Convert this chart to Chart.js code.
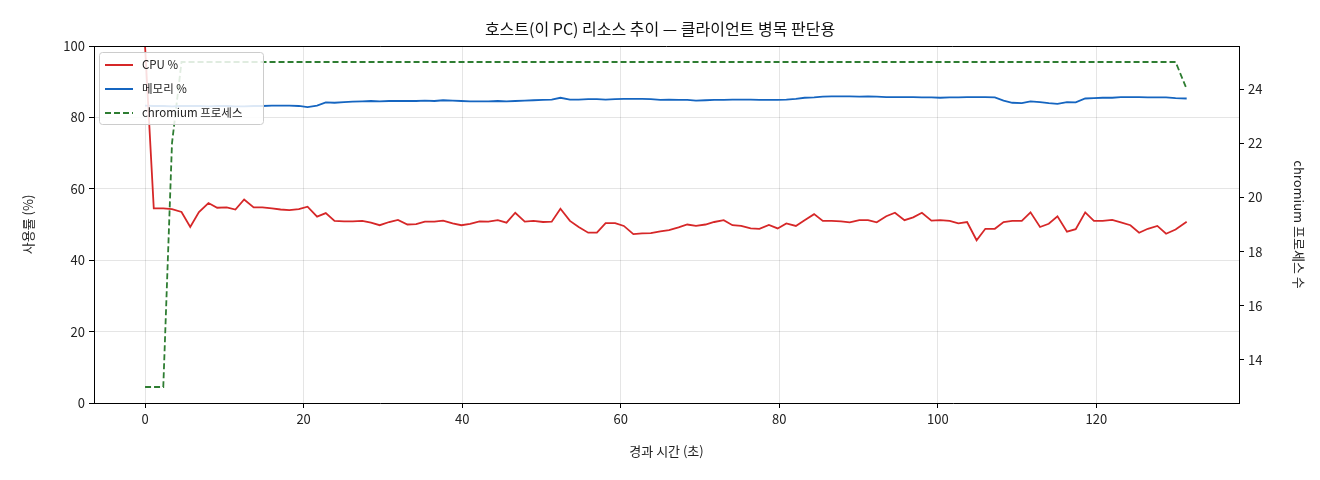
<!DOCTYPE html>
<html><head><meta charset="utf-8">
<script src="https://cdn.jsdelivr.net/npm/chart.js@4"></script>
<style>html,body{margin:0;padding:0;background:#fff}#w{width:1320px;height:480px}</style>
</head><body><div id="w"><canvas id="c"></canvas></div>
<script>
const times=[0,1.1,2.3,3.4,4.6,5.7,6.8,8.0,9.1,10.3,11.4,12.5,13.7,14.8,16.0,17.1,18.2,19.4,20.5,21.7,22.8,23.9,25.1,26.2,27.4,28.5,29.6,30.8,31.9,33.1,34.2,35.3,36.5,37.6,38.8,39.9,41.0,42.2,43.3,44.5,45.6,46.7,47.9,49.0,50.2,51.3,52.4,53.6,54.7,55.9,57.0,58.1,59.3,60.4,61.6,62.7,63.8,65.0,66.1,67.3,68.4,69.5,70.7,71.8,73.0,74.1,75.2,76.4,77.5,78.7,79.8,80.9,82.1,83.2,84.4,85.5,86.6,87.8,88.9,90.1,91.2,92.3,93.5,94.6,95.8,96.9,98.0,99.2,100.3,101.5,102.6,103.7,104.9,106.0,107.2,108.3,109.4,110.6,111.7,112.9,114.0,115.1,116.3,117.4,118.6,119.7,120.8,122.0,123.1,124.3,125.4,126.5,127.7,128.8,130.0,131.4];
const cpu=[100,54.5,54.5,54.3,53.5,49.3,53.5,56,54.7,54.8,54.2,57,54.8,54.8,54.5,54.2,54,54.3,55,52.2,53.2,51,50.9,50.9,51,50.5,49.8,50.7,51.3,50,50.1,50.8,50.8,51.1,50.3,49.8,50.2,50.9,50.8,51.2,50.5,53.3,50.8,51,50.7,50.8,54.4,51,49.3,47.7,47.7,50.4,50.4,49.6,47.3,47.5,47.6,48.1,48.4,49.2,50,49.6,50,50.7,51.2,49.8,49.6,48.9,48.8,49.9,48.9,50.3,49.6,51.2,52.9,51,51,50.9,50.6,51.2,51.2,50.6,52.3,53.3,51.2,52,53.3,51.1,51.2,51,50.3,50.7,45.6,48.8,48.8,50.7,51,51,53.4,49.3,50.2,52.3,48,48.7,53.4,51,51,51.3,50.6,49.8,47.7,48.8,49.6,47.4,48.6,50.8];
const mem=[83.3,83.2,83.2,83.1,83.2,83.2,83.2,83.1,83.2,83.2,83.1,83.1,83.2,83.2,83.3,83.3,83.3,83.2,82.9,83.3,84.2,84.1,84.3,84.4,84.5,84.6,84.5,84.6,84.6,84.6,84.6,84.7,84.6,84.8,84.7,84.6,84.5,84.5,84.5,84.6,84.5,84.6,84.7,84.8,84.9,85.0,85.5,85.0,85.0,85.1,85.1,85.0,85.1,85.2,85.2,85.2,85.1,84.9,85.0,84.9,84.9,84.7,84.8,84.9,84.9,85.0,85.0,85.0,84.9,84.9,84.9,85.0,85.2,85.5,85.6,85.8,85.9,85.9,85.9,85.8,85.9,85.8,85.7,85.7,85.7,85.7,85.6,85.6,85.5,85.6,85.6,85.7,85.7,85.7,85.6,84.7,84.1,84.0,84.5,84.3,84.0,83.8,84.3,84.2,85.3,85.4,85.5,85.5,85.7,85.7,85.7,85.6,85.6,85.6,85.4,85.3];
const chrom=[13,13,13,22,25,25,25,25,25,25,25,25,25,25,25,25,25,25,25,25,25,25,25,25,25,25,25,25,25,25,25,25,25,25,25,25,25,25,25,25,25,25,25,25,25,25,25,25,25,25,25,25,25,25,25,25,25,25,25,25,25,25,25,25,25,25,25,25,25,25,25,25,25,25,25,25,25,25,25,25,25,25,25,25,25,25,25,25,25,25,25,25,25,25,25,25,25,25,25,25,25,25,25,25,25,25,25,25,25,25,25,25,25,25,25,24];
const xTicks=[0,20,40,60,80,100,120];
const yTicks=[0,20,40,60,80,100];
const y2Ticks=[14,16,18,20,22,24];
const labels=['CPU %','메모리 %','chromium 프로세스'];
const colors=['#d62728','#1565c0','#2e7d32'];
const FONT='"Noto Sans CJK KR","Noto Sans",sans-serif';
const pts=a=>a.map((v,i)=>({x:times[i],y:v}));
const legendPlugin={id:'lg',afterDraw(ch){const c=ch.ctx;c.save();
 c.fillStyle='#111';c.textAlign='center';c.textBaseline='middle';
 c.font='16px '+FONT;c.fillText('호스트(이 PC) 리소스 추이 — 클라이언트 병목 판단용',660,29);
 const x=99,y=52,w=164,h=72;c.fillStyle='rgba(255,255,255,0.85)';c.strokeStyle='#ccc';c.lineWidth=1;
 c.beginPath();c.roundRect(x+.5,y+.5,w,h,3);c.fill();c.stroke();
 c.font='11.5px '+FONT;c.textAlign='left';
 labels.forEach((l,i)=>{const yy=y+13+i*24;c.strokeStyle=colors[i];c.lineWidth=2;c.setLineDash(i==2?[6,3]:[]);
  c.beginPath();c.moveTo(x+6,yy);c.lineTo(x+34,yy);c.stroke();c.setLineDash([]);c.fillStyle='#222';c.fillText(l,x+43,yy);});
 c.restore();}};
const grid={color:'rgba(0,0,0,0.1)',tickColor:'#000',tickLength:5};
new Chart(document.getElementById('c'),{type:'line',
 data:{datasets:[
  {label:labels[0],data:pts(cpu),borderColor:colors[0],borderWidth:1.8,pointRadius:0,yAxisID:'y',tension:0},
  {label:labels[1],data:pts(mem),borderColor:colors[1],borderWidth:1.8,pointRadius:0,yAxisID:'y',tension:0},
  {label:labels[2],data:pts(chrom),borderColor:colors[2],borderWidth:1.8,borderDash:[6,3],pointRadius:0,yAxisID:'y2',tension:0}]},
 options:{responsive:true,maintainAspectRatio:false,animation:false,
  layout:{padding:{top:46,left:16,right:9,bottom:17}},
  plugins:{legend:{display:false},title:{display:false},tooltip:{enabled:false}},
  scales:{
   x:{type:'linear',min:-6.44,max:138,afterBuildTicks:s=>{s.ticks=xTicks.map(v=>({value:v}))},afterFit:s=>{s.height=60},
      grid:grid,border:{color:'#000'},ticks:{color:'#222',font:{family:FONT,size:13},maxRotation:0,padding:3},
      title:{display:true,text:'경과 시간 (초)',color:'#222',font:{family:FONT,size:13},padding:{top:4}}},
   y:{position:'left',min:0,max:100,afterBuildTicks:s=>{s.ticks=yTicks.map(v=>({value:v}))},afterFit:s=>{s.width=78},
      grid:grid,border:{color:'#000'},ticks:{color:'#222',font:{family:FONT,size:13},padding:4},
      title:{display:true,text:'사용률 (%)',color:'#222',font:{family:FONT,size:13},padding:{bottom:4}}},
   y2:{position:'right',min:12.41,max:25.59,afterBuildTicks:s=>{s.ticks=y2Ticks.map(v=>({value:v}))},afterFit:s=>{s.width=72},
      grid:{drawOnChartArea:false,tickColor:'#000',tickLength:5},border:{color:'#000'},ticks:{color:'#222',font:{family:FONT,size:13},padding:4},
      title:{display:true,text:'chromium 프로세스 수',color:'#222',font:{family:FONT,size:13},padding:{top:4}}}}},
 plugins:[legendPlugin,{id:'topb',afterDraw(ch){const a=ch.chartArea,c=ch.ctx;c.save();c.strokeStyle='#000';c.lineWidth=1;c.beginPath();c.moveTo(a.left,a.top+.5);c.lineTo(a.right,a.top+.5);c.stroke();c.restore();}}]
});
</script></body></html>
